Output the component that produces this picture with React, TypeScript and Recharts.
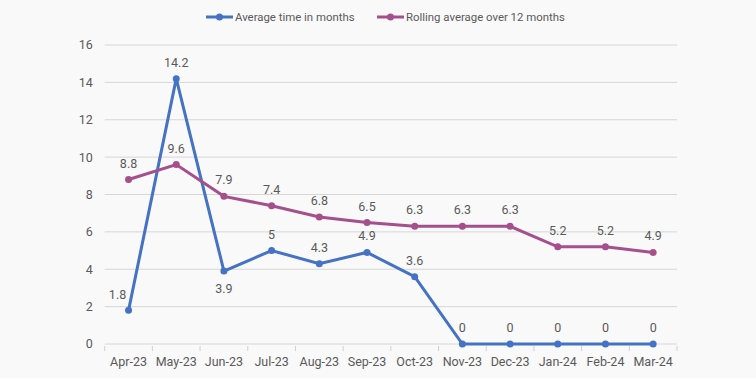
import React from 'react';
import { LineChart, Line, XAxis, YAxis, CartesianGrid, LabelList } from 'recharts';

const months = ['Apr-23', 'May-23', 'Jun-23', 'Jul-23', 'Aug-23', 'Sep-23', 'Oct-23', 'Nov-23', 'Dec-23', 'Jan-24', 'Feb-24', 'Mar-24'];
const averageTime = [1.8, 14.2, 3.9, 5, 4.3, 4.9, 3.6, 0, 0, 0, 0, 0];
const rollingAverage = [8.8, 9.6, 7.9, 7.4, 6.8, 6.5, 6.3, 6.3, 6.3, 5.2, 5.2, 4.9];
const yTicks = [0, 2, 4, 6, 8, 10, 12, 14, 16];
// label placement for the blue series: 'left' | 'below' | 'above'
const avgLabelPos = ['left', 'above', 'below', 'above', 'above', 'above', 'above', 'above', 'above', 'above', 'above', 'above'];

const data = months.map((m, i) => ({ month: m, avg: averageTime[i], rolling: rollingAverage[i] }));

const BLUE = '#4472C4';
const PURPLE = '#A5508C';
const TEXT = '#595959';
const FONT = 'Roboto, sans-serif';
const FS = 12.5;
const BAND = 47.7;

const XTick = (props: any) => {
  const { x, y, payload, index, visibleTicksCount } = props;
  return (
    <g>
      <line x1={x - BAND / 2} y1={y - 6} x2={x - BAND / 2} y2={y - 1} stroke="#d0d0d0" />
      {index === visibleTicksCount - 1 && (
        <line x1={x + BAND / 2} y1={y - 6} x2={x + BAND / 2} y2={y - 1} stroke="#d0d0d0" />
      )}
      <text x={x} y={y + 14} textAnchor="middle" fill={TEXT} fontSize={FS} fontFamily={FONT}>
        {payload.value}
      </text>
    </g>
  );
};

const AvgLabel = (props: any) => {
  const { x, y, value, index } = props;
  const pos = avgLabelPos[index];
  let lx = x, ly = y - 12;
  if (pos === 'left') { lx = x - 11; ly = y - 11; }
  if (pos === 'below') { ly = y + 22; }
  return (
    <text x={lx} y={ly} textAnchor="middle" fill={TEXT} fontSize={FS} fontFamily={FONT}>{value}</text>
  );
};

const RollLabel = (props: any) => {
  const { x, y, value } = props;
  return (
    <text x={x} y={y - 12} textAnchor="middle" fill={TEXT} fontSize={FS} fontFamily={FONT}>{value}</text>
  );
};

const LegendItem = ({ color, label, left }: { color: string; label: string; left: number }) => (
  <div style={{ position: 'absolute', left, top: 10, display: 'flex', alignItems: 'center', fontFamily: FONT, fontSize: 11.4, color: TEXT, whiteSpace: 'nowrap' }}>
    <svg width={28} height={10} style={{ marginRight: 1 }}>
      <line x1={0} y1={5} x2={27} y2={5} stroke={color} strokeWidth={3} />
      <circle cx={13.5} cy={5} r={3.5} fill={color} />
    </svg>
    <span>{label}</span>
  </div>
);

export default function App() {
  return (
    <div style={{ position: 'absolute', left: 0, top: 0, width: 756, height: 378, background: '#f9f9f9' }}>
      <LegendItem color={BLUE} label="Average time in months" left={206} />
      <LegendItem color={PURPLE} label="Rolling average over 12 months" left={377} />
      <LineChart width={756} height={378} data={data} margin={{ top: 45, right: 79, bottom: 0, left: 0 }}>
        <CartesianGrid vertical={false} stroke="#d6d6d6" />
        <XAxis dataKey="month" height={34} axisLine={false} tickLine={false} tick={<XTick />} interval={0}
          padding={{ left: BAND / 2, right: BAND / 2 }} />
        <YAxis width={104.7} domain={[0, 16]} ticks={yTicks} axisLine={false} tickLine={false} tickMargin={6}
          tick={{ fill: TEXT, fontSize: FS, fontFamily: FONT }} />
        <Line dataKey="avg" stroke={BLUE} strokeWidth={3} isAnimationActive={false}
          dot={{ r: 3.5, fill: BLUE, stroke: BLUE, strokeWidth: 0 }}>
          <LabelList dataKey="avg" content={<AvgLabel />} />
        </Line>
        <Line dataKey="rolling" stroke={PURPLE} strokeWidth={3} isAnimationActive={false}
          dot={{ r: 3.5, fill: PURPLE, stroke: PURPLE, strokeWidth: 0 }}>
          <LabelList dataKey="rolling" content={<RollLabel />} />
        </Line>
      </LineChart>
    </div>
  );
}
